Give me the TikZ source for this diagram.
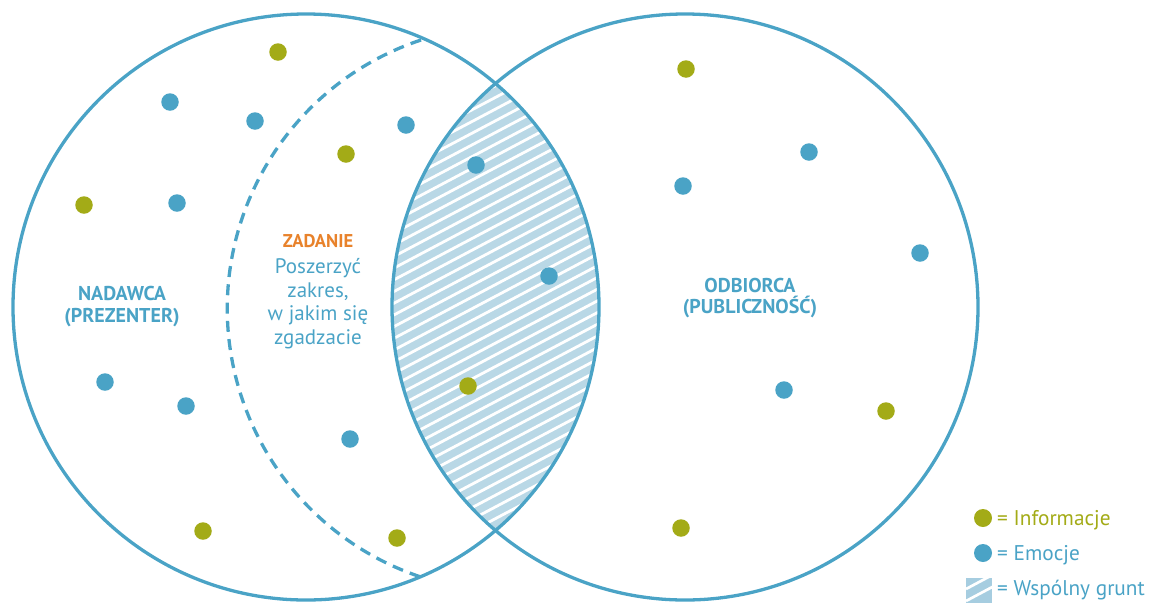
\documentclass[tikz,border=0pt]{standalone}
\usepackage{fontspec}
\setmainfont{PT Sans}
\usetikzlibrary{positioning}

\definecolor{bleu}{HTML}{4AA3C6}
\definecolor{vert}{HTML}{A3AB17}
\definecolor{orangez}{HTML}{E8822B}
\definecolor{grunt}{HTML}{B9D8E6}
\definecolor{gruntleg}{HTML}{A6CDE0}

\tikzset{
  cercle/.style={draw=bleu, line width=3.3pt},
  zakres/.style={draw=bleu, line width=3.3pt, dash pattern=on 11pt off 7.3pt},
  pointinfo/.style={circle, fill=vert, inner sep=0pt, minimum size=17.5pt},
  pointemo/.style={circle, fill=bleu, inner sep=0pt, minimum size=17.5pt},
  titre/.style={text=bleu, inner sep=0pt, align=center, font=\fontsize{20}{21.5}\selectfont\bfseries},
  zadanie/.style={text=orangez, inner sep=0pt, font=\fontsize{18.5}{20}\selectfont\bfseries},
  opis/.style={text=bleu, inner sep=0pt, align=center, font=\fontsize{21}{23.6}\selectfont},
  legtekst/.style={text=bleu, inner sep=0pt, anchor=base west, font=\fontsize{21.3}{23}\selectfont},
  legkwadrat/.style={fill=gruntleg, inner sep=0pt, minimum width=26pt, minimum height=25pt,
    path picture={
      \foreach \d in {-11pt,-23pt}
        \draw[white, line width=2.7pt] ([yshift=\d]path picture bounding box.north west) -- ++(30pt,16pt);
    }},
}

\begin{document}
\begin{tikzpicture}[x=1pt,y=-1pt]
\useasboundingbox (0,0) rectangle (1153,603);

\coordinate (nad) at (306,307); % centre du cercle gauche
\coordinate (odb) at (685,307); % centre du cercle droit

% la zone commune, hachurée
\begin{scope}
  \clip (nad) circle[radius=293];
  \clip (odb) circle[radius=293];
  \fill[grunt] (380,60) rectangle (620,560);
  \foreach \k in {0,...,48}
    \draw[white, line width=2.8pt] (380,100+11.7*\k) -- ++(240,-127);
\end{scope}

\draw[cercle] (nad) circle[radius=293];
\draw[cercle] (odb) circle[radius=293];

% l'arc en pointillés
\coordinate (zgora) at (421,40);
\draw[zakres] (zgora) arc[start angle=251.6, end angle=108.4, radius=283];

\foreach \Point [count=\i] in {(278,52), (346,154), (84,205), (468,386), (203,531),
    (397,538), (686,69), (886,411), (681,528)}{
    \node[pointinfo] (info\i) at \Point {};
}

\foreach \Point [count=\i] in {(170,102), (255,121), (406,125), (476,165), (177,203),
    (549,276), (105,382), (186,406), (350,439), (809,152), (683,186), (920,253), (784,390)}{
    \node[pointemo] (emo\i) at \Point {};
}

\node[titre] (nadawca) at (122,306.5) {NADAWCA\\(PREZENTER)};
\node[titre] (odbiorca) at (750,298) {ODBIORCA\\(PUBLICZNOŚĆ)};
\node[zadanie, anchor=base] (zad) at (318,247.5) {ZADANIE};
\node[opis] (opis) at (318,303.5) {Poszerzyć\\zakres,\\w jakim się\\zgadzacie};

% légende
\node[pointinfo, minimum size=18pt] (leginfo) at (983,518) {};
\node[legtekst, text=vert] (legi) at (997,525.5) {= Informacje};
\node[pointemo, minimum size=18pt] (legemo) at (983,553) {};
\node[legtekst] (lege) at (997,560.5) {= Emocje};
\node[legkwadrat] (leggrunt) at (979,590.5) {};
\node[legtekst] (legg) at (997,595) {= Wspólny grunt};

\end{tikzpicture}
\end{document}
